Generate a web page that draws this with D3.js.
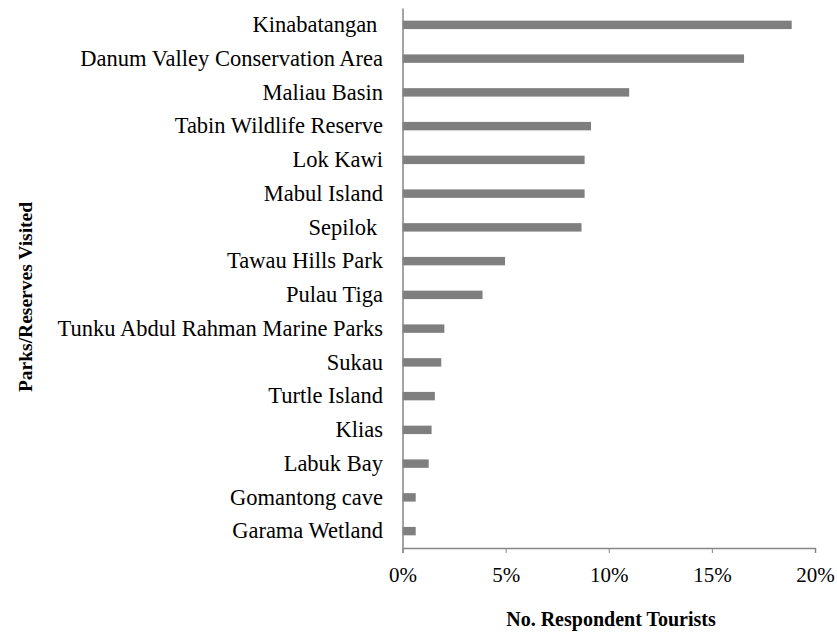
<!DOCTYPE html>
<html>
<head>
<meta charset="utf-8">
<script src="https://cdn.jsdelivr.net/npm/d3@7"></script>
<style>
  body { margin: 0; background: #fff; }
  text { font-family: "Liberation Serif", "Times New Roman", serif; white-space: pre; }
</style>
</head>
<body>
<div id="chart"></div>
<script>
// parks / reserves visited, top to bottom
var parks = ["Kinabatangan ", "Danum Valley Conservation Area", "Maliau Basin", "Tabin Wildlife Reserve",
  "Lok Kawi", "Mabul Island", "Sepilok ", "Tawau Hills Park", "Pulau Tiga",
  "Tunku Abdul Rahman Marine Parks", "Sukau", "Turtle Island", "Klias", "Labuk Bay",
  "Gomantong cave", "Garama Wetland"];
// share of respondent tourists (%)
var shares = [18.87, 16.56, 10.99, 9.14, 8.83, 8.83, 8.68, 4.97, 3.88, 2.03, 1.88, 1.57, 1.41, 1.27, 0.64, 0.64];
var xTicks = [0, 5, 10, 15, 20];

var data = parks.map(function(p, i) { return { name: p, value: shares[i] }; });

var W = 837, H = 635;
var margin = { top: 8, right: 22, bottom: 87, left: 402.5 };
var width = W - margin.left - margin.right;
var height = H - margin.top - margin.bottom;

var svg = d3.select("#chart").append("svg").attr("width", W).attr("height", H);
var g = svg.append("g").attr("transform", "translate(" + [margin.left, margin.top] + ")");

var x = d3.scaleLinear().domain([0, 20]).range([0, width]);
var y = d3.scaleBand().domain(parks).range([0, height]).paddingInner(0.75).paddingOuter(0.375);

g.selectAll("rect.bar").data(data).enter()
  .append("rect")
    .attr("class", "bar")
    .attr("x", 0)
    .attr("y", function(d) { return y(d.name); })
    .attr("width", function(d) { return x(d.value); })
    .attr("height", y.bandwidth())
    .attr("fill", "#7f7f7f");

// x axis
var xAxis = g.append("g")
  .attr("transform", "translate(0," + height + ")")
  .call(d3.axisBottom(x).tickValues(xTicks).tickSize(5).tickPadding(14).tickFormat(function(d) { return d + "%"; }));
xAxis.select(".domain").attr("stroke", "#868686").attr("stroke-width", 1.5);
xAxis.selectAll(".tick line").attr("stroke", "#868686");
xAxis.selectAll("text").attr("font-size", 21).attr("fill", "#000")
  .style("font-family", "'Liberation Serif', serif");

// y axis
var yAxis = g.append("g")
  .call(d3.axisLeft(y).tickSize(0).tickPadding(19.5));
yAxis.select(".domain").attr("stroke", "#868686").attr("stroke-width", 1.5);
yAxis.selectAll("text").attr("font-size", 22.5).attr("fill", "#000")
  .style("font-family", "'Liberation Serif', serif");

// axis titles
svg.append("text")
  .attr("x", 611)
  .attr("y", 626)
  .attr("text-anchor", "middle")
  .attr("font-size", 20)
  .attr("font-weight", "bold")
  .text("No. Respondent Tourists");

svg.append("text")
  .attr("transform", "translate(32,297) rotate(-90)")
  .attr("text-anchor", "middle")
  .attr("font-size", 19.5)
  .attr("font-weight", "bold")
  .text("Parks/Reserves Visited");
</script>
</body>
</html>
